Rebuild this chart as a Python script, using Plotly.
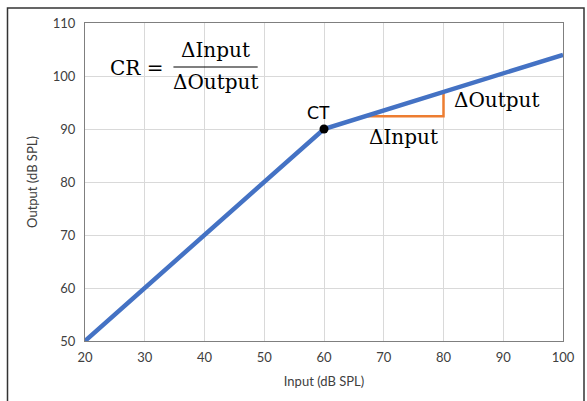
import plotly.graph_objects as go

# Data
input_db = [20, 60, 100]
output_db = [50, 90, 104]
ct_x = [60]
ct_y = [90]
tri_x = [67.3, 80, 80]
tri_y = [92.4, 92.4, 97.0]
x_ticks = [20, 30, 40, 50, 60, 70, 80, 90, 100]
y_ticks = [50, 60, 70, 80, 90, 100, 110]

W, H = 587, 401
L, R, T, B = 85, 24, 23, 60

fig = go.Figure()
fig.add_trace(go.Scatter(x=tri_x, y=tri_y, mode="lines",
                         line=dict(color="#ED7D31", width=2.5), hoverinfo="skip"))
fig.add_trace(go.Scatter(x=input_db, y=output_db, mode="lines",
                         line=dict(color="#4472C4", width=4.5), hoverinfo="skip"))
fig.add_trace(go.Scatter(x=ct_x, y=ct_y, mode="markers",
                         marker=dict(color="black", size=9), hoverinfo="skip"))

serif = "DejaVu Serif, serif"
sans = "Lato, Open Sans, sans-serif"

ann = [
    dict(x=28.6, y=101.6, text="CR =", font=dict(family=serif, size=20, color="black")),
    dict(x=41.9, y=104.9, text="ΔInput", font=dict(family=serif, size=20, color="black")),
    dict(x=41.9, y=98.9, text="ΔOutput", font=dict(family=serif, size=20, color="black")),
    dict(x=59.0, y=93.3, text="CT", font=dict(family=sans, size=18, color="black")),
    dict(x=81.4, y=95.4, text="ΔOutput", xanchor="left", font=dict(family=serif, size=20, color="black")),
    dict(x=73.3, y=88.4, text="ΔInput", font=dict(family=serif, size=20, color="black")),
]
for a in ann:
    a.setdefault("xanchor", "center")
    a.update(xref="x", yref="y", showarrow=False, yanchor="middle")

pw = W - L - R
ph = H - T - B
def px2paper_x(p):
    return (p - L) / pw
def px2paper_y(p):
    return (H - B - p) / ph

shapes = [
    dict(type="line", xref="x", yref="y", x0=34.8, x1=48.9, y0=101.7, y1=101.7,
         line=dict(color="black", width=1.2)),
    dict(type="rect", xref="paper", yref="paper",
         x0=px2paper_x(7.5), x1=px2paper_x(584), y0=px2paper_y(8), y1=px2paper_y(420),
         line=dict(color="#333333", width=1.5), layer="above"),
]

fig.update_layout(
    width=W, height=H,
    margin=dict(l=L, r=R, t=T, b=B),
    paper_bgcolor="white", plot_bgcolor="white",
    showlegend=False,
    annotations=ann, shapes=shapes,
    font=dict(family=sans, size=13, color="#404040"),
)
fig.update_xaxes(range=[20, 100], tickvals=x_ticks, showgrid=True, gridcolor="#d9d9d9",
                 showline=True, linecolor="#7f7f7f", linewidth=1, mirror=True, zeroline=False,
                 ticks="outside", ticklen=4, tickcolor="rgba(0,0,0,0)",
                 tickfont=dict(size=13, color="#404040"),
                 title=dict(text="Input (dB SPL)", font=dict(size=13, color="#404040"), standoff=13))
fig.update_yaxes(range=[50, 110], tickvals=y_ticks, showgrid=True, gridcolor="#d9d9d9",
                 showline=True, linecolor="#7f7f7f", linewidth=1, mirror=True, zeroline=False,
                 ticks="outside", ticklen=6, tickcolor="rgba(0,0,0,0)",
                 tickfont=dict(size=13, color="#404040"),
                 title=dict(text="Output (dB SPL)", font=dict(size=13, color="#404040"), standoff=12))

fig.write_html("out.html", config={"displayModeBar": False},
               post_script="document.body.style.margin='0px';")
